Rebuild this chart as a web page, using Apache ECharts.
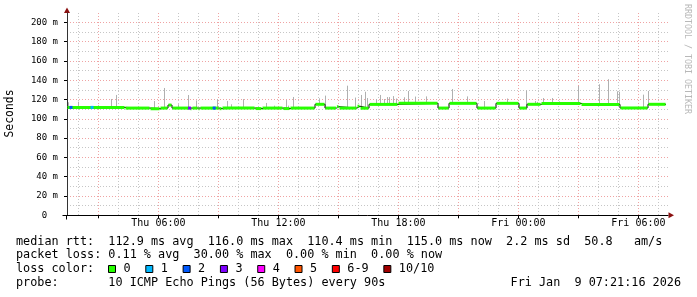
<!DOCTYPE html>
<html><head><meta charset="utf-8">
<script src="https://cdn.jsdelivr.net/npm/echarts@6/dist/echarts.min.js"></script>
<style>html,body{margin:0;padding:0;background:#fff}#c{width:697px;height:297px}</style>
</head><body><div id="c"></div>
<script>
// ---- data (time in hours since Thu 00:00, values in ms) ----
const xMin = 1.43, xMax = 31.48;
const yMin = 0, yMax = 209.6;
const medianT = [1.43, 4.33, 5.58, 6.08, 6.48, 6.68, 7.58, 7.68, 7.98, 8.08, 9.03, 9.18, 10.83, 11.18, 12.23, 12.58, 13.83, 14.33, 14.9, 15.03, 15.93, 16.08, 16.53, 17.98, 19.98, 20.53, 21.93, 22.88, 24.03, 24.43, 25.13, 27.13, 29.08, 30.48];
const medianV = [111.8, 111.1, 110.4, 111.1, 114.2, 111.1, 110.5, 111.1, 110.5, 111.1, 110.5, 111.1, 110.6, 111.1, 110.6, 111.1, 115.0, 111.1, 112.5, 111.1, 113.0, 111.0, 114.9, 116.0, 111.1, 116.0, 111.1, 116.0, 111.1, 115.0, 115.9, 114.9, 111.2, 115.0];
const medianEnd = 31.38;
const lossT = [1.63, 2.68, 7.56, 8.79];
const lossN = [2, 1, 3, 2];
const smokeT = [1.50, 2.00, 2.99, 3.64, 3.90, 5.80, 6.30, 6.99, 7.50, 7.86, 8.95, 9.45, 9.62, 10.25, 11.39, 11.79, 12.39, 12.49, 12.71, 14.04, 14.35, 15.45, 15.84, 16.15, 16.34, 16.45, 16.89, 17.09, 17.29, 17.45, 17.55, 17.74, 17.89, 18.30, 18.50, 18.84, 19.39, 20.70, 21.44, 22.30, 23.42, 24.38, 24.84, 24.95, 25.22, 25.70, 26.02, 27.00, 28.04, 28.50, 28.95, 29.05, 30.25, 30.50];
const smokeMax = [117.1, 117.7, 114.0, 120.5, 124.7, 118.4, 131.9, 115.0, 124.6, 119.0, 120.4, 118.4, 115.0, 120.4, 116.4, 113.6, 119.4, 113.6, 122.6, 121.2, 124.0, 134.3, 122.0, 124.7, 128.0, 121.5, 120.5, 124.7, 120.5, 122.5, 122.5, 123.5, 121.0, 122.3, 128.8, 123.0, 123.2, 130.8, 123.2, 118.4, 121.0, 129.3, 118.4, 117.5, 121.5, 121.5, 118.0, 134.0, 135.8, 141.0, 128.5, 128.0, 125.0, 128.8];

const xLabelHours = [6, 12, 18, 24, 30];
const xLabels = ['Thu 06:00', 'Thu 12:00', 'Thu 18:00', 'Fri 00:00', 'Fri 06:00'];
const xMajorHours = [3, 6, 9, 12, 15, 18, 21, 24, 27, 30];
const xMinorHours = [2, 4, 5, 7, 8, 10, 11, 13, 14, 16, 17, 19, 20, 22, 23, 25, 26, 28, 29, 31];
const yMajor = [0, 20, 40, 60, 80, 100, 120, 140, 160, 180, 200];
const yMinor = [10, 30, 50, 70, 90, 110, 130, 150, 170, 190];

const lossColors = ['#26ff00', '#00b8ff', '#0059ff', '#7e00ff', '#ff00ff', '#ff5500', '#ff0000', '#a00000'];
const lossLabels = ['0', '1', '2', '3', '4', '5', '6-9', '10/10'];
const rttStats = ['112.9 ms avg', '116.0 ms max', '110.4 ms min', '115.0 ms now', '2.2 ms sd', '50.8   am/s'];
const lossStats = ['0.11 % avg', '30.00 % max', '0.00 % min', '0.00 % now'];
const probeText = '10 ICMP Echo Pings (56 Bytes) every 90s';
const dateText = 'Fri Jan  9 07:21:16 2026';

// ---- build ----
const MONO = '"DejaVu Sans Mono", monospace';
const RED = '#efa3a3';
const GREY = '#c6c6c6';

function medAt(t) { let v = medianV[0]; for (let i = 0; i < medianT.length; i++) if (medianT[i] <= t) v = medianV[i]; return v; }
function lossIdx(n) { return n <= 5 ? n : (n < 10 ? 6 : 7); }

const stepData = medianT.map((t, i) => [t, medianV[i]]).concat([[medianEnd, medianV[medianV.length - 1]]]);
const segData = medianT.map((t, i) => [t, i + 1 < medianT.length ? medianT[i + 1] : medianEnd, medianV[i]]);
const smokeData = smokeT.map((t, i) => [t, medAt(t), smokeMax[i]]);
const lossData = lossT.map((t, i) => [t, medAt(t), lossN[i]]);

const chart = echarts.init(document.getElementById('c'), null, { renderer: 'canvas' });

const lf = 11.8, cw = lf * 0.6021, lx = 16;
const rows = [241.7, 255.2, 268.9, 282.6];
const graphics = [];
function txt(x, y, s, opts) {
  graphics.push(Object.assign({ type: 'text', x: x, y: y, silent: true,
    style: { text: s, fill: '#000', font: lf + 'px ' + MONO, textAlign: 'left', textVerticalAlign: 'middle' } }, opts || {}));
}
txt(lx, rows[0], 'median rtt:  ' + rttStats.join('  '));
txt(lx, rows[1], 'packet loss: ' + lossStats.join('  '));
txt(lx, rows[2], 'loss color:');
let bx = 108.5;
lossLabels.forEach((lab, i) => {
  graphics.push({ type: 'rect', silent: true, shape: { x: bx, y: 265.5, width: 7, height: 7 },
    style: { fill: lossColors[i], stroke: '#000', lineWidth: 1 } });
  txt(bx + 15, rows[2], lab);
  bx += 15 + lab.length * cw + 15.2;
});
txt(lx, rows[3], 'probe:');
txt(lx + 13 * cw, rows[3], probeText);
graphics.push({ type: 'text', x: 681, y: rows[3], silent: true,
  style: { text: dateText, fill: '#000', font: lf + 'px ' + MONO, textAlign: 'right', textVerticalAlign: 'middle' } });
// axis title
graphics.push({ type: 'text', x: 10.5, y: 113.5, rotation: Math.PI / 2, silent: true,
  style: { text: 'Seconds', fill: '#000', font: '11.4px ' + MONO, textAlign: 'center', textVerticalAlign: 'middle' } });
// watermark
graphics.push({ type: 'text', x: 687.5, y: 59, rotation: -Math.PI / 2, silent: true,
  style: { text: 'RRDTOOL / TOBI OETIKER', fill: '#b8b8b8', font: '8.3px ' + MONO, textAlign: 'center', textVerticalAlign: 'middle' } });
// arrows and axis extensions
graphics.push({ type: 'polygon', silent: true, shape: { points: [[64, 13], [70, 13], [67, 7.5]] }, style: { fill: '#8b1010' } });
graphics.push({ type: 'polygon', silent: true, shape: { points: [[668.5, 212.3], [668.5, 218.3], [674, 215.3]] }, style: { fill: '#8b1010' } });
graphics.push({ type: 'line', silent: true, shape: { x1: 62.5, y1: 215.5, x2: 67, y2: 215.5 }, style: { stroke: '#000', lineWidth: 1 } });
graphics.push({ type: 'line', silent: true, shape: { x1: 66.5, y1: 215, x2: 66.5, y2: 219.5 }, style: { stroke: '#000', lineWidth: 1 } });

const xFmt = v => { const i = xLabelHours.indexOf(Math.round(v)); return i >= 0 ? xLabels[i] : ''; };
const yFmt = v => v === 0 ? '0  ' : (v + ' m');

chart.setOption({
  animation: false,
  backgroundColor: '#fff',
  grid: { left: 67, right: 29, top: 13, bottom: 81.7, containLabel: false },
  xAxis: [
    { type: 'value', min: xMin, max: xMax, z: 2,
      axisLine: { show: true, onZero: false, lineStyle: { color: '#000', width: 1 } },
      axisTick: { show: true, customValues: xMajorHours, length: 3, lineStyle: { color: '#000' } },
      axisLabel: { show: true, customValues: xLabelHours, formatter: xFmt, fontFamily: MONO, fontSize: 10, color: '#000', margin: 3 },
      splitLine: { show: true, lineStyle: { color: RED, width: 1, type: [1, 2] } } },
    { type: 'value', min: xMin, max: xMax, z: 1,
      axisLine: { show: false }, axisLabel: { show: false },
      axisTick: { show: false, customValues: xMinorHours },
      splitLine: { show: true, lineStyle: { color: GREY, width: 1, type: [1, 2] } } }
  ],
  yAxis: [
    { type: 'value', min: yMin, max: yMax, z: 2,
      axisLine: { show: true, onZero: false, lineStyle: { color: '#333', width: 1 } },
      axisTick: { show: true, customValues: yMajor, length: 3, lineStyle: { color: '#000' } },
      axisLabel: { show: true, customValues: yMajor, formatter: yFmt, fontFamily: MONO, fontSize: 9, color: '#000', margin: 9 },
      splitLine: { show: true, lineStyle: { color: RED, width: 1, type: [1, 2] } } },
    { type: 'value', min: yMin, max: yMax, z: 1,
      axisLine: { show: false }, axisLabel: { show: false },
      axisTick: { show: false, customValues: yMinor },
      splitLine: { show: true, lineStyle: { color: GREY, width: 1, type: [1, 2] } } }
  ],
  series: [
    { name: 'smoke', type: 'custom', xAxisIndex: 0, yAxisIndex: 0, z: 3,
      dimensions: ['t', 'lo', 'hi'], encode: { x: 0, y: [1, 2] },
      renderItem: (params, api) => {
        const a = api.coord([api.value(0), api.value(1)]);
        const b = api.coord([api.value(0), api.value(2)]);
        const x = Math.round(a[0]) + 0.5;
        return { type: 'line', shape: { x1: x, y1: a[1], x2: x, y2: b[1] }, style: { stroke: '#b0b0b0', lineWidth: 1 } };
      },
      data: smokeData },
    { name: 'median', type: 'line', xAxisIndex: 0, yAxisIndex: 0, z: 4, step: 'end', symbol: 'none',
      lineStyle: { color: '#000', width: 1 }, data: stepData },
    { name: 'median-color', type: 'custom', xAxisIndex: 0, yAxisIndex: 0, z: 5,
      dimensions: ['t0', 't1', 'v'], encode: { x: [0, 1], y: 2 },
      renderItem: (params, api) => {
        const a = api.coord([api.value(0), api.value(2)]);
        const b = api.coord([api.value(1), api.value(2)]);
        return { type: 'line', shape: { x1: a[0] + 0.5, y1: a[1], x2: b[0] - 0.5, y2: b[1] }, style: { stroke: lossColors[0], lineWidth: 3 } };
      },
      data: segData },
    { name: 'loss', type: 'custom', xAxisIndex: 0, yAxisIndex: 0, z: 6,
      dimensions: ['t', 'v', 'n'], encode: { x: 0, y: 1 },
      renderItem: (params, api) => {
        const a = api.coord([api.value(0), api.value(1)]);
        return { type: 'line', shape: { x1: a[0] - 1.5, y1: a[1], x2: a[0] + 1.5, y2: a[1] }, style: { stroke: lossColors[lossIdx(api.value(2))], lineWidth: 3 } };
      },
      data: lossData }
  ],
  graphic: graphics
});
</script>
</body></html>
